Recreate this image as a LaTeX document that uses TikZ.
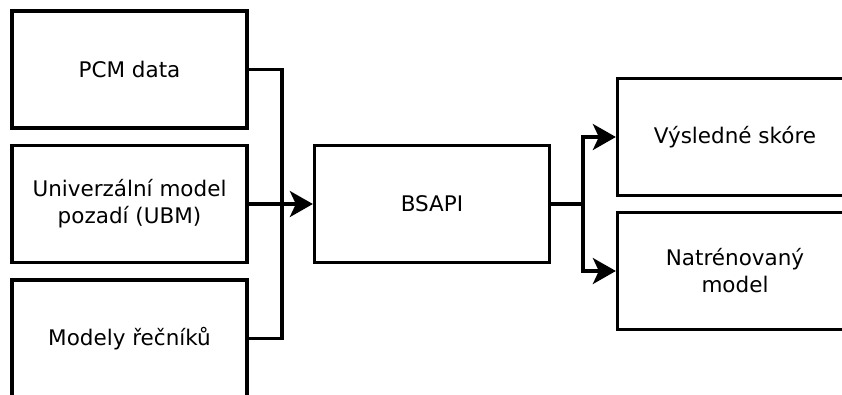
\documentclass[tikz,border=0pt]{standalone}
\usepackage{fontspec}
\setmainfont{DejaVu Sans}
\usepackage{tikz}
\usetikzlibrary{arrows.meta,positioning}
\tikzset{
  box/.style={draw, line width=3.3pt, align=center, inner sep=0pt,
              minimum width=235pt, minimum height=117pt,
              font=\fontsize{21.5}{27}\selectfont},
  flow/.style={-{Stealth[length=23pt, width=26pt, inset=6pt]}, line width=3.3pt},
  wire/.style={line width=3.3pt},
}

\begin{document}
\begin{tikzpicture}[x=1pt, y=-1pt]
  \clip (0,0) rectangle (842,394);
  % inputs
  \node[box] (pcm) at (129.5,69.5) {PCM data};
  \node[box] (ubm) at (129.5,204) {Univerzální model\\pozadí (UBM)};
  \node[box] (spk) at (129.5,338.5) {Modely řečníků};
  % core
  \node[box] (bsapi) at (432,204) {BSAPI};
  % outputs
  \node[box] (score) at (735,137) {Výsledné skóre};
  \node[box] (model) at (735,271) {Natrénovaný\\model};
  % joins
  \coordinate (join) at (282,204);
  \coordinate (split) at (583,204);
  \draw[wire] (pcm) -| (join);
  \draw[wire] (spk) -| (join);
  \draw[flow] (ubm) -- (bsapi);
  \draw[wire] (bsapi) -- (split);
  \draw[flow] (split) |- (score);
  \draw[flow] (split) |- (model);
\end{tikzpicture}
\end{document}
